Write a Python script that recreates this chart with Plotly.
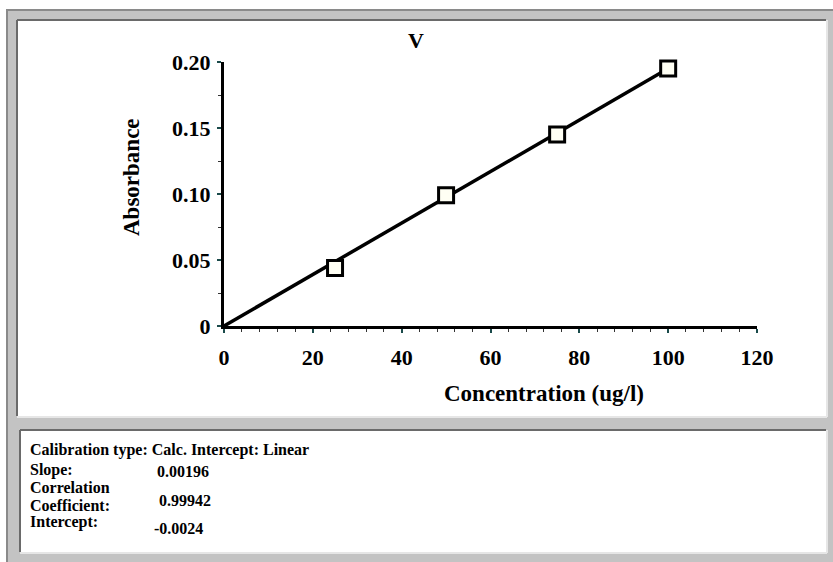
import plotly.graph_objects as go

# ---- data ----
conc = [25, 50, 75, 100]
absorb = [0.044, 0.099, 0.145, 0.195]
fit_x = [0, 100]
fit_y = [0.0, 0.195]
x_ticks = [0, 20, 40, 60, 80, 100, 120]
y_ticks = [0, 0.05, 0.10, 0.15, 0.20]
y_tick_text = ["0", "0.05", "0.10", "0.15", "0.20"]
title_text = "V"
x_title = "Concentration (ug/l)"
y_title = "Absorbance"
info_labels = ["Calibration type: Calc. Intercept: Linear", "Slope:", "Correlation",
               "Coefficient:", "Intercept:"]
info_values = ["0.00196", "0.99942", "-0.0024"]

# ---- geometry (pixels) ----
W, H = 833, 562
L, R, T, B = 224, 757, 62, 326


def px(x):
    return (x - L) / (R - L)


def py(y):
    return (B - y) / (B - T)


SERIF = "Liberation Serif, Times New Roman, serif"

fig = go.Figure()
fig.add_trace(go.Scatter(x=fit_x, y=fit_y, mode="lines",
                         line=dict(color="black", width=3.5),
                         cliponaxis=False, showlegend=False, hoverinfo="skip"))
fig.add_trace(go.Scatter(x=conc, y=absorb, mode="markers",
                         marker=dict(symbol="square", size=15, color="#fffff4",
                                     line=dict(color="black", width=3)),
                         cliponaxis=False, showlegend=False))

shapes = []


def rect(x0, y0, x1, y1, fill):
    shapes.append(dict(type="rect", xref="paper", yref="paper", layer="below",
                       x0=px(x0), x1=px(x1), y0=py(y0), y1=py(y1),
                       fillcolor=fill, line=dict(width=0)))


def hline(x0, x1, y, color, lw):
    shapes.append(dict(type="line", xref="paper", yref="paper", layer="below",
                       x0=px(x0), x1=px(x1), y0=py(y), y1=py(y),
                       line=dict(color=color, width=lw)))


def vline(x, y0, y1, color, lw):
    shapes.append(dict(type="line", xref="paper", yref="paper", layer="below",
                       x0=px(x), x1=px(x), y0=py(y0), y1=py(y1),
                       line=dict(color=color, width=lw)))


# outer gray frame
rect(6, 9, W, H, "#c3c3c3")
hline(6, W, 10, "#8a8a8a", 2)
vline(7, 9, H, "#8a8a8a", 2)
# panel 1
rect(17, 20, 826, 416, "white")
hline(17, 826, 20, "#6a6a6a", 2)
vline(17, 20, 416, "#6a6a6a", 2)
hline(17, 827, 417, "#e6e6e6", 2)
vline(827, 20, 417, "#e6e6e6", 2)
# panel 2
rect(20, 430, 826, 552, "white")
hline(20, 826, 430, "#6a6a6a", 2)
vline(20, 430, 552, "#6a6a6a", 2)
hline(20, 827, 553, "#e6e6e6", 2)
vline(827, 430, 553, "#e6e6e6", 2)

annotations = []
annotations.append(dict(text=title_text, x=px(416), y=py(40), xref="paper", yref="paper",
                        showarrow=False, xanchor="center", yanchor="middle",
                        font=dict(family=SERIF, size=22, color="black", weight="bold")))
annotations.append(dict(text=x_title, x=px(544), y=py(393), xref="paper", yref="paper",
                        showarrow=False, xanchor="center", yanchor="middle",
                        font=dict(family=SERIF, size=23, color="black", weight="bold")))
annotations.append(dict(text=y_title, x=px(131), y=py(177), xref="paper", yref="paper",
                        showarrow=False, xanchor="center", yanchor="middle", textangle=-90,
                        font=dict(family=SERIF, size=23, color="black", weight="bold")))

info_font = dict(family=SERIF, size=16, color="black", weight="bold")
label_pos = [(28, 450), (28, 470), (28, 487), (28, 506), (28, 522)]
value_pos = [(155, 471), (157, 500), (152, 528)]
for lab, lp in zip(info_labels, label_pos):
    annotations.append(dict(text=lab, x=px(lp[0]), y=py(lp[1]), xref="paper", yref="paper",
                            showarrow=False, xanchor="left", yanchor="middle",
                            font=info_font))
for val, vp in zip(info_values, value_pos):
    annotations.append(dict(text=val, x=px(vp[0]), y=py(vp[1]), xref="paper", yref="paper",
                            showarrow=False, xanchor="left", yanchor="middle",
                            font=info_font))

tick_font = dict(family=SERIF, size=22, color="black", weight="bold")
fig.update_layout(
    width=W, height=H,
    margin=dict(l=L, r=W - R, t=T, b=H - B, pad=0),
    paper_bgcolor="white",
    plot_bgcolor="rgba(0,0,0,0)",
    shapes=shapes,
    annotations=annotations,
    showlegend=False,
    xaxis=dict(range=[0, 120], tickmode="array", tickvals=x_ticks,
               ticks="outside", ticklen=4, tickwidth=2, tickcolor="#1a4a4a",
               showline=True, linewidth=3, linecolor="black",
               showgrid=False, zeroline=False, tickfont=tick_font,
               ticklabelstandoff=6,
               minor=dict(dtick=4, ticks="outside", ticklen=3, tickwidth=1, tickcolor="#333", showgrid=False)),
    yaxis=dict(range=[0, 0.2], tickmode="array", tickvals=y_ticks, ticktext=y_tick_text,
               ticks="outside", ticklen=4, tickwidth=2, tickcolor="#1a4a4a",
               showline=True, linewidth=3, linecolor="black",
               showgrid=False, zeroline=False, tickfont=tick_font,
               ticklabelstandoff=2,
               minor=dict(dtick=0.025, ticks="outside", ticklen=3, tickwidth=1, tickcolor="#333", showgrid=False)),
)

fig.write_html("out.html")
